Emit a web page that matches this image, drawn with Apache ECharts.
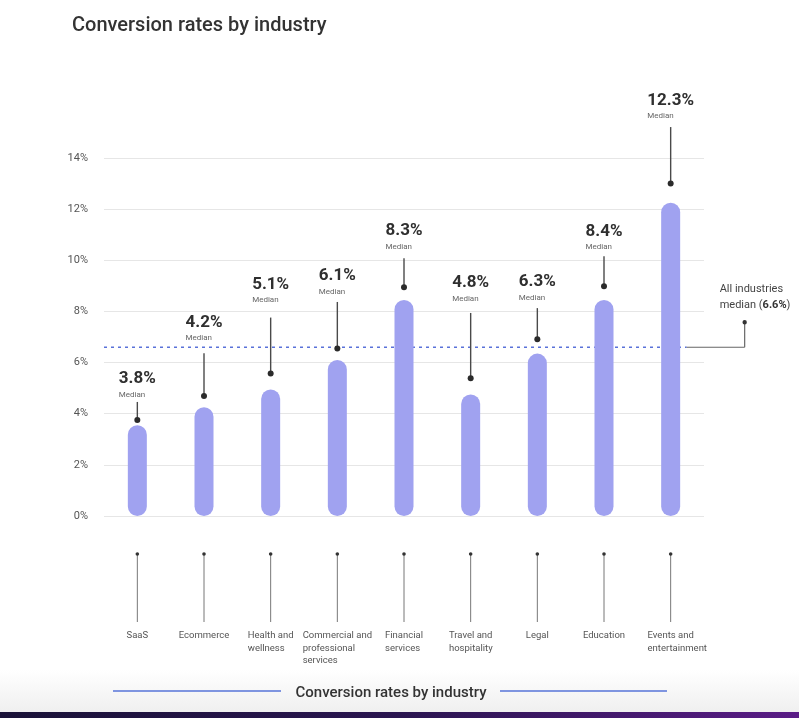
<!DOCTYPE html>
<html>
<head>
<meta charset="utf-8">
<script src="https://cdn.jsdelivr.net/npm/echarts@6/dist/echarts.min.js"></script>
<style>
html,body{margin:0;padding:0;background:#fff;}
#chart{width:799px;height:718px;}
</style>
</head>
<body>
<div id="chart"></div>
<script>
// ---- data ----
const categories = ['SaaS', 'Ecommerce', 'Health and\nwellness', 'Commercial and\nprofessional\nservices', 'Financial\nservices', 'Travel and\nhospitality', 'Legal', 'Education', 'Events and\nentertainment'];
const medianLabels = [3.8, 4.2, 5.1, 6.1, 8.3, 4.8, 6.3, 8.4, 12.3];
const barValues = [3.55, 4.25, 4.95, 6.1, 8.45, 4.75, 6.35, 8.45, 12.25];
const allIndustriesMedian = 6.6;
const yTicks = [0, 2, 4, 6, 8, 10, 12, 14];

// ---- callout layout (in axis units) ----
const calloutLabelLevel = [5.35, 7.57, 9.06, 9.38, 11.14, 9.11, 9.15, 11.11, 16.25];
const calloutLineTop = [4.46, 6.36, 7.76, 8.37, 10.08, 7.94, 8.13, 10.16, 15.21];
const calloutDotLevel = [3.75, 4.69, 5.57, 6.55, 8.95, 5.39, 6.91, 8.98, 13.0];

const FONT = 'Roboto, "Noto Sans", sans-serif';
const measureCtx = document.createElement('canvas').getContext('2d');
function textWidth(font, s) { measureCtx.font = font; return measureCtx.measureText(s).width; }

const chart = echarts.init(document.getElementById('chart'));

const calloutData = categories.map((c, i) => [i, calloutDotLevel[i], calloutLabelLevel[i], calloutLineTop[i]]);

const option = {
  backgroundColor: '#ffffff',
  animation: false,
  title: {
    text: 'Conversion rates by industry',
    left: 67, top: 11,
    textStyle: { fontFamily: FONT, fontSize: 20, fontWeight: 500, color: '#333333' }
  },
  grid: { left: 104, right: 95, top: 158, bottom: 202 },
  xAxis: {
    type: 'category',
    data: categories,
    axisLine: { show: false },
    axisTick: { show: false },
    axisLabel: { show: false },
    splitLine: { show: false }
  },
  yAxis: {
    type: 'value',
    min: yTicks[0], max: yTicks[yTicks.length - 1], interval: 2,
    axisLine: { show: false },
    axisTick: { show: false },
    axisLabel: { formatter: '{value}%', color: '#555555', fontSize: 11, fontFamily: FONT, margin: 16 },
    splitLine: { lineStyle: { color: '#e6e6e6', width: 1 } }
  },
  graphic: [
    { type: 'rect', left: 0, top: 670, shape: { width: 799, height: 43 },
      style: { fill: new echarts.graphic.LinearGradient(0, 0, 0, 1, [{ offset: 0, color: '#ffffff' }, { offset: 1, color: '#efefef' }]) }, z: -10 },
    { type: 'rect', left: 0, top: 712, shape: { width: 799, height: 6 },
      style: { fill: new echarts.graphic.LinearGradient(0, 0, 1, 0, [{ offset: 0, color: '#1a1238' }, { offset: 0.5, color: '#2a1550' }, { offset: 1, color: '#5a1c86' }]) }, z: -10 },
    { type: 'line', shape: { x1: 113, y1: 691, x2: 281, y2: 691 }, style: { stroke: '#7f95e0', lineWidth: 2 } },
    { type: 'line', shape: { x1: 500, y1: 691, x2: 667, y2: 691 }, style: { stroke: '#7f95e0', lineWidth: 2 } },
    { type: 'text', x: 391, y: 693, style: { text: 'Conversion rates by industry', fill: '#333333', font: '500 15px ' + FONT, align: 'center', verticalAlign: 'middle' } }
  ],
  series: [
    {
      name: 'All industries median',
      type: 'custom',
      z: 1,
      data: [[categories.length - 1, allIndustriesMedian]],
      encode: { x: 0, y: 1 },
      renderItem: function (params, api) {
        const cs = params.coordSys;
        const p = api.coord([api.value(0), api.value(1)]);
        const y = p[1];
        const xEnd = p[0] + 16;
        const xCorner = p[0] + 74;
        return {
          type: 'group',
          children: [
            { type: 'line', shape: { x1: cs.x, y1: y, x2: xEnd, y2: y }, style: { stroke: '#5a72d9', lineWidth: 1.6, lineDash: [3, 4] } },
            { type: 'line', shape: { x1: xEnd, y1: y, x2: xCorner, y2: y }, style: { stroke: '#666666', lineWidth: 1.2 } },
            { type: 'line', shape: { x1: xCorner, y1: y, x2: xCorner, y2: y - 25 }, style: { stroke: '#666666', lineWidth: 1.2 } },
            { type: 'circle', shape: { cx: xCorner, cy: y - 25, r: 2.2 }, style: { fill: '#333333' } },
            { type: 'text', x: p[0] + 49, y: y - 57.5, style: { text: 'All industries', fill: '#444444', font: '11px ' + FONT, align: 'left', verticalAlign: 'middle' } },
            { type: 'text', x: p[0] + 49, y: y - 41.5, style: {
                text: '{n|median (}{b|' + allIndustriesMedian.toFixed(1) + '%}{n|)}',
                align: 'left', verticalAlign: 'middle',
                rich: {
                  n: { fill: '#444444', fontFamily: FONT, fontSize: 11 },
                  b: { fill: '#333333', fontFamily: FONT, fontSize: 11, fontWeight: 'bold' }
                }
              } }
          ]
        };
      }
    },
    {
      name: 'Conversion rate',
      type: 'bar',
      z: 2,
      data: barValues,
      barWidth: 19,
      itemStyle: { color: '#a0a2f0', borderRadius: 9.5 }
    },
    {
      name: 'Callouts',
      type: 'custom',
      z: 3,
      data: calloutData,
      encode: { x: 0, y: 1 },
      renderItem: function (params, api) {
        const i = api.value(0);
        const dot = api.coord([i, api.value(1)]);
        const lab = api.coord([i, api.value(2)]);
        const top = api.coord([i, api.value(3)]);
        const x = dot[0];
        const valFont = 'bold 17px ' + FONT;
        const valText = medianLabels[i].toFixed(1) + '%';
        const w = textWidth(valFont, valText);
        return {
          type: 'group',
          children: [
            { type: 'line', shape: { x1: x, y1: top[1], x2: x, y2: dot[1] }, style: { stroke: '#4a4a4a', lineWidth: 1.4 } },
            { type: 'circle', shape: { cx: x, cy: dot[1], r: 3 }, style: { fill: '#2b2b2b' } },
            { type: 'text', x: x, y: lab[1], style: { text: valText, fill: '#2f2f2f', font: valFont, align: 'center', verticalAlign: 'middle' } },
            { type: 'text', x: x - w / 2, y: lab[1] + 15.5, style: { text: 'Median', fill: '#666666', font: '8px ' + FONT, align: 'left', verticalAlign: 'middle' } }
          ]
        };
      }
    },
    {
      name: 'Category labels',
      type: 'custom',
      z: 3,
      data: categories.map((c, i) => [i, 0]),
      encode: { x: 0, y: 1 },
      renderItem: function (params, api) {
        const i = api.value(0);
        const p = api.coord([i, 0]);
        const x = p[0];
        const base = p[1];
        const lines = categories[i].split('\n');
        const f = '9.5px ' + FONT;
        const w = textWidth(f, lines[0]);
        return {
          type: 'group',
          children: [
            { type: 'line', shape: { x1: x, y1: base + 38, x2: x, y2: base + 106 }, style: { stroke: '#777777', lineWidth: 1 } },
            { type: 'circle', shape: { cx: x, cy: base + 38, r: 1.8 }, style: { fill: '#333333' } },
            { type: 'text', x: x - w / 2, y: base + 114, style: { text: categories[i], fill: '#555555', font: f, lineHeight: 12.2, align: 'left', verticalAlign: 'top' } }
          ]
        };
      }
    }
  ]
};

chart.setOption(option);
</script>
</body>
</html>
